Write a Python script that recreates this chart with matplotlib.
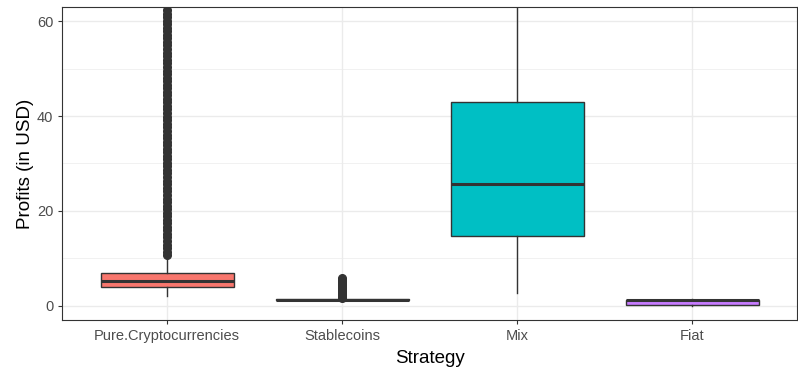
import matplotlib.pyplot as plt

plt.rcParams['font.family'] = ['Liberation Sans', 'DejaVu Sans']

strategies = ["Pure.Cryptocurrencies", "Stablecoins", "Mix", "Fiat"]
fills = ["#F8766D", "#7CAE00", "#00BFC4", "#C77CFF"]

# five-number summaries per strategy
q1 = [3.9, 1.1, 14.8, 0.05]
med = [5.3, 1.2, 25.6, 1.2]
q3 = [6.85, 1.35, 42.9, 1.3]
whislo = [2.1, 1.0, 2.7, 0.0]
whishi = [10.3, 1.5, 80.0, 1.35]

# outliers (the Pure.Cryptocurrencies ones run far past the top of the view)
pure_out = [10.7, 11.4, 12.1, 12.9, 13.6, 14.4, 15.1, 15.9, 16.6, 17.4, 18.1, 18.9,
            19.6, 20.4, 21.1, 21.9, 22.6, 23.4, 24.1, 24.9, 25.6, 26.4, 27.1, 27.9,
            28.6, 29.4, 30.1, 30.9, 31.6, 32.4, 33.1, 33.9, 34.6, 35.4, 36.1, 36.9,
            37.6, 38.4, 39.1, 39.9, 40.6, 41.4, 42.1, 42.9, 43.6, 44.4, 45.1, 45.9,
            46.6, 47.4, 48.1, 48.9, 49.6, 50.4, 51.1, 51.9, 52.6, 53.4, 54.1, 54.9,
            55.6, 56.4, 57.1, 57.9, 58.6, 59.4, 60.1, 60.9, 61.6, 62.4, 63.5]
stable_out = [1.6, 1.9, 2.2, 2.5, 2.8, 3.1, 3.4, 3.7, 4.0, 4.3, 4.6, 4.9, 5.2, 5.5, 5.8]
fiat_out = []
mix_out = []
outliers = [pure_out, stable_out, mix_out, fiat_out]

stats = []
for i, name in enumerate(strategies):
    stats.append(dict(label=name, q1=q1[i], med=med[i], q3=q3[i],
                      whislo=whislo[i], whishi=whishi[i], fliers=outliers[i]))

fig = plt.figure(figsize=(7.98, 3.69), dpi=100)
ax = fig.add_axes([0.078, 0.133, 0.921, 0.848])

ax.set_axisbelow(True)
ax.set_yticks([10, 30, 50], minor=True)
ax.grid(which='major', color='#EBEBEB', linewidth=1.0)
ax.grid(which='minor', axis='y', color='#EBEBEB', linewidth=0.5)

edge = '#333333'
bp = ax.bxp(stats, positions=[1, 2, 3, 4], widths=0.76, patch_artist=True,
            showcaps=False,
            boxprops=dict(edgecolor=edge, linewidth=1.0),
            medianprops=dict(color=edge, linewidth=2.2, solid_capstyle='butt'),
            whiskerprops=dict(color=edge, linewidth=1.0),
            flierprops=dict(marker='o', markersize=5.5, markerfacecolor=edge,
                            markeredgecolor=edge))
for patch, c in zip(bp['boxes'], fills):
    patch.set_facecolor(c)

ax.set_xlim(0.4, 4.6)
ax.set_ylim(-3, 63)
ax.set_yticks([0, 20, 40, 60])
ax.set_xticks([1, 2, 3, 4])
ax.set_xticklabels(strategies)
ax.tick_params(axis='both', which='major', labelsize=10.5, colors='#333333',
               labelcolor='#4D4D4D', length=3, width=0.8)
ax.tick_params(axis='y', which='minor', length=0)

for s in ax.spines.values():
    s.set_color('#333333')
    s.set_linewidth(0.8)

ax.set_xlabel("Strategy", fontsize=13.5, labelpad=5)
ax.set_ylabel("Profits (in USD)", fontsize=13.5, labelpad=2)

fig.savefig("out.png", dpi=100)
